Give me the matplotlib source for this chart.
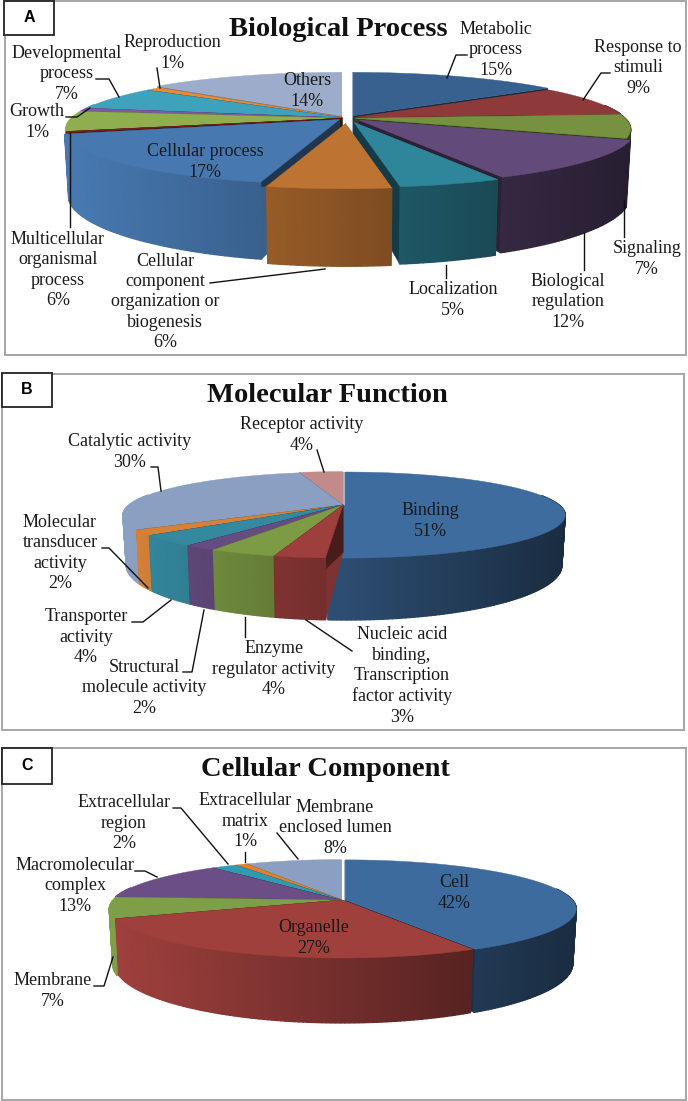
import numpy as np
import matplotlib
matplotlib.use('Agg')
import matplotlib.pyplot as plt
from matplotlib.colors import to_rgb
from matplotlib.patches import Rectangle

plt.rcParams['font.family'] = ['Liberation Serif', 'DejaVu Serif']

# Panel A - slices as drawn, the thin dark red one has no label of its own
bio_values = [15, 9, 7, 12, 5, 6, 17, 0.4, 6, 1, 7, 1, 14]
bio_colors = ['#38618f', '#8e3a3a', '#76913f', '#624a7a', '#2f869b', '#bd7332', '#4778b0',
              '#7a1f1f', '#8fae4f', '#7e5aa6', '#3fa2bd', '#e98b34', '#9dacca']
bio_explode = [0.05, 0.03, 0.03, 0.06, 0.09, 0.11, 0.04, 0.02, 0.02, 0.02, 0.02, 0.02, 0.05]
bio_labels = ['Metabolic\nprocess\n15%', 'Response to\nstimuli\n9%', 'Signaling\n7%',
              'Biological\nregulation\n12%', 'Localization\n5%',
              'Cellular\ncomponent\norganization or\nbiogenesis\n6%', 'Cellular process\n17%',
              'Multicellular\norganismal\nprocess\n6%', 'Growth\n1%', 'Developmental\nprocess\n7%',
              'Reproduction\n1%', 'Others\n14%']
bio_label_pos = [(496, 50), (638, 68), (647, 259), (568, 302), (453, 300), (165, 302),
                 (205, 162), (58, 270), (37, 122), (67, 74), (172, 53), (307, 91)]
bio_leaders = [[(467, 55), (456, 55), (447, 78)], [(610, 73), (601, 73), (583, 100)],
               [(624, 200), (624, 237)], [(584, 233), (584, 270)], [(446, 265), (446, 278)],
               [(210, 283), (325, 269)], [(70, 133), (70, 227)], [(66, 117), (77, 117), (90, 108)],
               [(96, 79), (109, 79), (119, 97)], [(157, 68), (160, 88)]]

# Panel B
mol_values = [51, 3, 4, 2, 4, 2, 30, 4]
mol_colors = ['#3f6c9f', '#9e3f3d', '#7d9a45', '#654d82', '#35899f', '#d5813a', '#8a9fc2', '#c28a88']
mol_explode = [0.01, 0, 0, 0, 0, 0, 0, 0.01]
mol_labels = ['Binding\n51%', 'Nucleic acid\nbinding,\nTranscription\nfactor activity\n3%',
              'Enzyme\nregulator activity\n4%', 'Structural\nmolecule activity\n2%',
              'Transporter\nactivity\n4%', 'Molecular\ntransducer\nactivity\n2%',
              'Catalytic activity\n30%', 'Receptor activity\n4%']
mol_label_pos = [(430, 521), (402, 676), (274, 669), (144, 688), (86, 637), (60, 553), (130, 452), (302, 435)]
mol_leaders = [[(317, 450), (324, 472)], [(151, 467), (158, 467), (161, 491)],
               [(102, 548), (109, 548), (148, 588)], [(132, 622), (143, 622), (171, 600)],
               [(183, 672), (192, 672), (204, 610)], [(245, 617), (245, 637)], [(306, 620), (352, 651)]]

# Panel C
cell_values = [42, 27, 7, 13, 2, 1, 8]
cell_colors = ['#3e6b9d', '#9f403d', '#7f9e48', '#6b4e85', '#2f9ab0', '#e07f2c', '#8a9fc2']
cell_explode = [0.015, 0, 0.008, 0.012, 0.01, 0.01, 0.01]
cell_labels = ['Cell\n42%', 'Organelle\n27%', 'Membrane\n7%', 'Macromolecular\ncomplex\n13%',
               'Extracellular\nregion\n2%', 'Extracellular\nmatrix\n1%', 'Membrane\nenclosed lumen\n8%']
cell_label_pos = [(454, 893), (314, 938), (53, 991), (75, 886), (124, 823), (245, 821), (335, 828)]
cell_leaders = [[(173, 808), (181, 808), (228, 864)], [(245, 852), (245, 862)], [(277, 833), (298, 859)],
                [(135, 871), (145, 871), (157, 877)], [(94, 986), (104, 986), (113, 957)]]


def rim(theta, geo, ox=0, oy=0):
    # clockwise from 12 o'clock, with a bit of perspective towards the viewer
    cx, cy, rx, ry, k, depth = geo
    front = -np.cos(theta)
    d = 1 - k * front
    x = rx * np.sin(theta) / d
    y = ry * front / d
    return cx + ox + x, cy + oy + y, cx + ox + 0.985 * x, cy + oy + y + depth / d


def shade(color, f):
    return tuple(c * f for c in to_rgb(color))


def draw_pie(ax, values, colors, explode, geo):
    cx, cy, rx, ry, k, depth = geo
    edges = 2 * np.pi * np.cumsum([0] + list(values)) / sum(values)
    mids = (edges[:-1] + edges[1:]) / 2
    z = 2
    # back slices first, the front ones paint over them
    for i in np.argsort(-np.cos(mids)):
        ox = explode[i] * rx * np.sin(mids[i])
        oy = -explode[i] * ry * np.cos(mids[i])
        ax0, ay0 = cx + ox, cy + oy
        th = np.linspace(edges[i], edges[i + 1], max(int((edges[i + 1] - edges[i]) * 60), 3))
        xt, yt, xb, yb = rim(th, geo, ox, oy)
        # start edge catches more light than the end edge
        for j, f in ((0, 0.8), (-1, 0.45)):
            ax.fill([ax0, xt[j], xb[j], ax0], [ay0, yt[j], yb[j], ay0 + depth],
                    color=shade(colors[i], f), lw=0.3, zorder=z)
        z += 1
        for j in range(len(th) - 1):
            if -np.cos(th[j]) < -0.25:
                continue
            xn = ((xt[j] + xt[j + 1]) / 2 - cx) / rx
            c = shade(colors[i], np.clip(0.71 - 0.29 * xn, 0.3, 1))
            ax.fill([xt[j], xt[j + 1], xb[j + 1], xb[j]], [yt[j], yt[j + 1], yb[j + 1], yb[j]],
                    color=c, lw=1.0, zorder=z)
        z += 1
        ax.fill(np.r_[ax0, xt], np.r_[ay0, yt], color=colors[i], lw=0.3, zorder=z)
        z += 1
    return z


def panel(ax, frame, box, letter, title, title_pos, values, colors, explode, geo, labels, label_pos, leaders):
    ax.add_patch(Rectangle((frame[0], frame[1]), frame[2] - frame[0], frame[3] - frame[1],
                           fc='white', ec='#a6a6a6', lw=1.4, zorder=1))
    z = draw_pie(ax, values, colors, explode, geo)
    ax.add_patch(Rectangle((box[0], box[1]), box[2] - box[0], box[3] - box[1],
                           fc='white', ec='#222222', lw=1.3, zorder=z))
    ax.text((box[0] + box[2]) / 2, (box[1] + box[3]) / 2, letter, family='Liberation Sans', weight='bold',
            fontsize=11.5, ha='center', va='center', zorder=z + 1)
    ax.text(title_pos[0], title_pos[1], title, weight='bold', fontsize=20.5, ha='center', va='center',
            color='#111111', zorder=z + 1)
    for line in leaders:
        ax.plot([p[0] for p in line], [p[1] for p in line], color='#111111', lw=1, zorder=z + 1)
    for text, pos in zip(labels, label_pos):
        ax.text(pos[0], pos[1], text, fontsize=13, ha='center', va='center', linespacing=1.25,
                color='#1a1a1a', zorder=z + 2)


fig = plt.figure(figsize=(6.88, 11.01), dpi=100)
ax = fig.add_axes([0, 0, 1, 1])
ax.set_xlim(0, 688)
ax.set_ylim(1101, 0)
ax.axis('off')

panel(ax, (5, 1, 686, 355), (4, 1, 54, 35), 'A', 'Biological Process', (338, 29),
      bio_values, bio_colors, bio_explode, (347, 118, 270, 52, 0.2, 62),
      bio_labels, bio_label_pos, bio_leaders)
panel(ax, (2, 374, 684, 730), (2, 373, 52, 407), 'B', 'Molecular Function', (327, 395),
      mol_values, mol_colors, mol_explode, (343, 505, 214, 40.7, 0.233, 47.5),
      mol_labels, mol_label_pos, mol_leaders)
panel(ax, (2, 748, 686, 1100), (2, 748, 52, 784), 'C', 'Cellular Component', (325, 770),
      cell_values, cell_colors, cell_explode, (342, 900, 227, 47.3, 0.184, 53),
      cell_labels, cell_label_pos, cell_leaders)

fig.savefig('out.png', dpi=100)
